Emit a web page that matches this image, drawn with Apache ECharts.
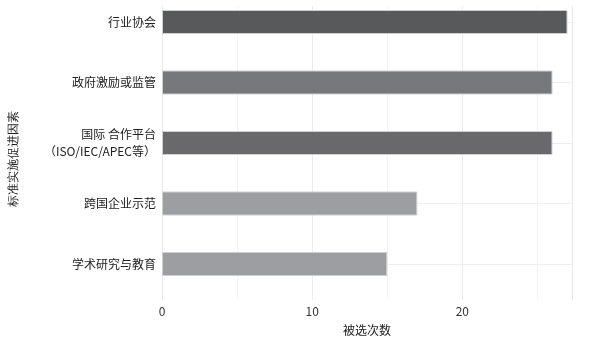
<!DOCTYPE html>
<html><head><meta charset="utf-8">
<script src="https://cdn.jsdelivr.net/npm/echarts@6/dist/echarts.min.js"></script>
<style>html,body{margin:0;padding:0;background:#fff}#c{width:598px;height:343px}</style>
</head><body><div id="c"></div>
<script>
const categories = ['行业协会', '政府激励或监管', '国际 合作平台\n（ISO/IEC/APEC等）', '跨国企业示范', '学术研究与教育'];
const values = [27, 26, 26, 17, 15];
const barColors = ['#58595b', '#77787b', '#69696c', '#9d9ea1', '#9d9ea1'];
const xTicks = [0, 10, 20];
const xTitle = '被选次数';
const yTitle = '标准实施促进因素';

const font = '"Noto Sans CJK SC", "Liberation Sans", sans-serif';
const xMax = 27.3;
const chart = echarts.init(document.getElementById('c'), null, {renderer: 'canvas'});
chart.setOption({
  animation: false,
  grid: [
    {left: 162, right: 26, top: 22, bottom: 79},
    {left: 162, right: 26, top: 6, bottom: 43}
  ],
  xAxis: [
    {gridIndex: 0, type: 'value', min: 0, max: xMax, interval: 10, show: false},
    {gridIndex: 1, type: 'value', min: 0, max: xMax, interval: 10,
      axisLine: {show: false}, axisTick: {show: false},
      axisLabel: {fontSize: 12, color: '#333', fontFamily: font, margin: 5,
        formatter: v => xTicks.includes(v) ? String(v) : ''},
      splitLine: {show: true, lineStyle: {color: '#ebebeb', width: 1}},
      minorTick: {show: false, splitNumber: 2},
      minorSplitLine: {show: true, lineStyle: {color: '#f4f4f4', width: 1}},
      name: xTitle, nameLocation: 'middle', nameGap: 24,
      nameTextStyle: {fontSize: 12, color: '#222', fontFamily: font}
    }
  ],
  yAxis: [
    {gridIndex: 0, type: 'category', data: categories, inverse: true, boundaryGap: false,
      axisLine: {show: false}, axisTick: {show: false},
      axisLabel: {fontSize: 12, color: '#222', fontFamily: font, margin: 6, lineHeight: 17, align: 'right'},
      splitLine: {show: true, lineStyle: {color: '#eeeeee', width: 1}}
    },
    {gridIndex: 1, type: 'value', show: false}
  ],
  graphic: [{
    type: 'text', x: 14, y: 159, rotation: Math.PI / 2,
    style: {text: yTitle, fontSize: 12, fill: '#222', font: '12px ' + font,
      textAlign: 'center', textVerticalAlign: 'middle'}
  }],
  series: [{
    type: 'bar', xAxisIndex: 0, yAxisIndex: 0, barWidth: 24,
    data: values.map((v, i) => ({value: v, itemStyle: {color: barColors[i]}})),
    itemStyle: {borderColor: '#cfcfcf', borderWidth: 1}
  }]
});
</script></body></html>
